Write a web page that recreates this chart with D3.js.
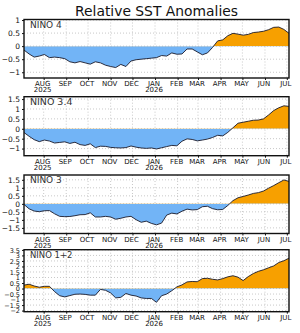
<!DOCTYPE html>
<html>
<head>
<meta charset="utf-8">
<script src="https://cdn.jsdelivr.net/npm/d3@7"></script>
<style>
  body { margin: 0; background: #fff; }
  svg { display: block; }
  text { font-family: "DejaVu Sans", sans-serif; }
</style>
</head>
<body>
<div id="chart"></div>
<script>
// weekly values, first week 2025-07-05
var firstWeek = new Date(2025, 6, 5);

var nino4 = [-0.15,-0.30,-0.42,-0.38,-0.32,-0.44,-0.42,-0.44,-0.48,-0.60,
  -0.64,-0.59,-0.64,-0.69,-0.60,-0.64,-0.73,-0.78,-0.82,-0.70,
  -0.78,-0.57,-0.52,-0.50,-0.48,-0.46,-0.44,-0.36,-0.38,-0.26,
  -0.31,-0.30,-0.11,-0.11,-0.22,-0.33,-0.26,-0.05,0.20,0.24,
  0.40,0.49,0.46,0.42,0.45,0.52,0.54,0.57,0.63,0.72,
  0.73,0.64,0.49];

var nino34 = [-0.19,-0.38,-0.55,-0.65,-0.57,-0.62,-0.72,-0.69,-0.66,-0.74,
  -0.68,-0.80,-0.84,-0.76,-0.95,-0.88,-0.89,-0.94,-0.96,-0.97,
  -0.95,-0.87,-0.93,-0.97,-0.99,-0.97,-1.02,-0.96,-0.90,-0.84,
  -0.86,-0.63,-0.51,-0.54,-0.61,-0.57,-0.52,-0.44,-0.33,-0.36,
  -0.18,0.05,0.28,0.33,0.38,0.43,0.44,0.50,0.70,0.92,
  1.06,1.16,1.13];

var nino3 = [-0.04,-0.31,-0.45,-0.49,-0.43,-0.42,-0.62,-0.78,-0.80,-0.79,
  -0.74,-0.68,-0.67,-0.56,-0.82,-0.82,-0.78,-0.82,-0.96,-0.90,
  -0.82,-0.78,-0.99,-1.15,-1.08,-1.22,-1.31,-1.20,-0.70,-0.58,
  -0.63,-0.46,-0.33,-0.38,-0.36,-0.18,-0.15,-0.30,-0.37,-0.35,
  -0.10,0.20,0.38,0.46,0.55,0.65,0.70,0.80,0.98,1.14,
  1.32,1.49,1.40];

var nino12 = [0.31,0.39,0.23,0.12,0.20,0.20,-0.28,-0.65,-0.76,-0.64,
  -0.52,-0.50,-0.53,-0.60,-0.60,-0.08,-0.16,-0.40,-0.85,-0.80,
  -0.45,-0.60,-0.68,-0.85,-0.90,-0.90,-1.25,-0.65,-0.50,-0.20,
  0.15,0.33,0.60,0.64,0.62,0.90,0.93,0.84,0.78,0.90,
  1.06,1.16,1.03,0.72,1.08,1.36,1.56,1.70,1.88,2.05,
  2.36,2.52,2.75];

var panelNames = ["NINO 4", "NINO 3.4", "NINO 3", "NINO 1+2"];
var yTicks4 = [-1, -0.5, 0, 0.5, 1];
var yTicks34 = [-1, -0.5, 0, 0.5, 1, 1.5];
var yTicks3 = [-1.5, -1, -0.5, 0, 0.5, 1, 1.5];
var yTicks12 = [-2, -1.5, -1, -0.5, 0, 0.5, 1, 1.5, 2, 2.5, 3, 3.5];
var monthNames = ["JAN","FEB","MAR","APR","MAY","JUN","JUL","AUG","SEP","OCT","NOV","DEC"];

var W = 300, H = 333;
var left = 24, right = 289;
var cond = "'DejaVu Sans Condensed', 'DejaVu Sans', sans-serif";

var panels = [
  {name: panelNames[0], values: nino4, ticks: yTicks4, domain: [-1.22, 1.02], top: 19.5, bottom: 78, fs: 7.5},
  {name: panelNames[1], values: nino34, ticks: yTicks34, domain: [-1.36, 1.62], top: 96.7, bottom: 155.7, fs: 7.5},
  {name: panelNames[2], values: nino3, ticks: yTicks3, domain: [-1.85, 1.8], top: 175, bottom: 233.5, fs: 7.5},
  {name: panelNames[3], values: nino12, ticks: yTicks12, domain: [-2.1, 3.52], top: 249.7, bottom: 311.7, fs: 6.5}
];

var svg = d3.select("#chart").append("svg")
  .attr("width", W).attr("height", H);

svg.append("text")
  .attr("x", 156.5).attr("y", 16)
  .attr("text-anchor", "middle")
  .attr("font-size", 13.5)
  .attr("textLength", 163)
  .attr("lengthAdjust", "spacingAndGlyphs")
  .attr("fill", "#111")
  .text("Relative SST Anomalies");

var lastWeek = d3.timeDay.offset(firstWeek, 7 * (nino4.length - 1));
var x = d3.scaleTime().domain([firstWeek, lastWeek]).range([left, right]);
var months = d3.timeMonth.range(new Date(2025, 7, 1), new Date(2026, 6, 2));

panels.forEach(function(p, pi){
  var y = d3.scaleLinear().domain(p.domain).range([p.bottom, p.top]);
  var pts = p.values.map(function(v, i){ return {d: d3.timeDay.offset(firstWeek, 7 * i), v: v}; });
  var g = svg.append("g");

  // grid
  g.selectAll(".vg").data(months).enter().append("line")
    .attr("x1", function(d){ return x(d); }).attr("x2", function(d){ return x(d); })
    .attr("y1", p.top).attr("y2", p.bottom)
    .attr("stroke", "#bbb").attr("stroke-width", 0.8).attr("stroke-dasharray", "1,2");
  g.selectAll(".hg").data(p.ticks).enter().append("line")
    .attr("x1", left).attr("x2", right)
    .attr("y1", function(d){ return y(d); }).attr("y2", function(d){ return y(d); })
    .attr("stroke", "#bbb").attr("stroke-width", 0.8).attr("stroke-dasharray", "1,2");

  // filled anomaly, split at zero by clip rects
  var cid = "c" + pi;
  var defs = g.append("defs");
  defs.append("clipPath").attr("id", cid + "p").append("rect")
    .attr("x", left).attr("y", p.top).attr("width", right - left).attr("height", y(0) - p.top);
  defs.append("clipPath").attr("id", cid + "n").append("rect")
    .attr("x", left).attr("y", y(0)).attr("width", right - left).attr("height", p.bottom - y(0));

  var area = d3.area().x(function(d){ return x(d.d); }).y0(y(0)).y1(function(d){ return y(d.v); });
  g.append("path").datum(pts).attr("d", area).attr("fill", "#f7a000").attr("clip-path", "url(#" + cid + "p)");
  g.append("path").datum(pts).attr("d", area).attr("fill", "#72b4f6").attr("clip-path", "url(#" + cid + "n)");

  var line = d3.line().x(function(d){ return x(d.d); }).y(function(d){ return y(d.v); });
  g.append("path").datum(pts).attr("d", line)
    .attr("fill", "none").attr("stroke", "#1a1a2a").attr("stroke-width", 0.9);

  // frame
  g.append("rect").attr("x", left).attr("y", p.top)
    .attr("width", right - left).attr("height", p.bottom - p.top)
    .attr("fill", "none").attr("stroke", "#111").attr("stroke-width", 1.4);

  // y axis
  var ya = d3.axisLeft(y).tickValues(p.ticks).tickSize(2).tickPadding(2)
    .tickFormat(function(d){ return d3.format("")(d); });
  var yg = g.append("g").attr("transform", "translate(" + left + ",0)").call(ya);
  yg.select(".domain").remove();
  yg.selectAll("line").attr("stroke", "#111");
  yg.selectAll("text").attr("font-size", p.fs).attr("fill", "#111").attr("font-family", cond);

  // x axis
  var xa = d3.axisBottom(x).tickValues(months).tickSize(2).tickPadding(1.5)
    .tickFormat(function(d){ return monthNames[d.getMonth()]; });
  var xg = g.append("g").attr("transform", "translate(0," + p.bottom + ")").call(xa);
  xg.select(".domain").remove();
  xg.selectAll("line").attr("stroke", "#111");
  xg.selectAll("text").attr("font-size", 7).attr("fill", "#111")
    .attr("font-family", cond)
    .attr("dx", -1.5);
  xg.selectAll(".tick").filter(function(d){ return d.getMonth() === 7 || d.getMonth() === 0; })
    .append("text")
    .attr("y", 9.5).attr("dy", "0.71em").attr("dx", -1.5)
    .attr("text-anchor", "middle")
    .attr("font-size", 7).attr("fill", "#111")
    .attr("font-family", cond)
    .text(function(d){ return d.getFullYear(); });

  // panel name
  g.append("text")
    .attr("x", 30).attr("y", p.top + 8)
    .attr("font-size", 8.5).attr("fill", "#333")
    .attr("textLength", p.name.length * 5.3)
    .attr("lengthAdjust", "spacingAndGlyphs")
    .text(p.name);
});
</script>
</body>
</html>
